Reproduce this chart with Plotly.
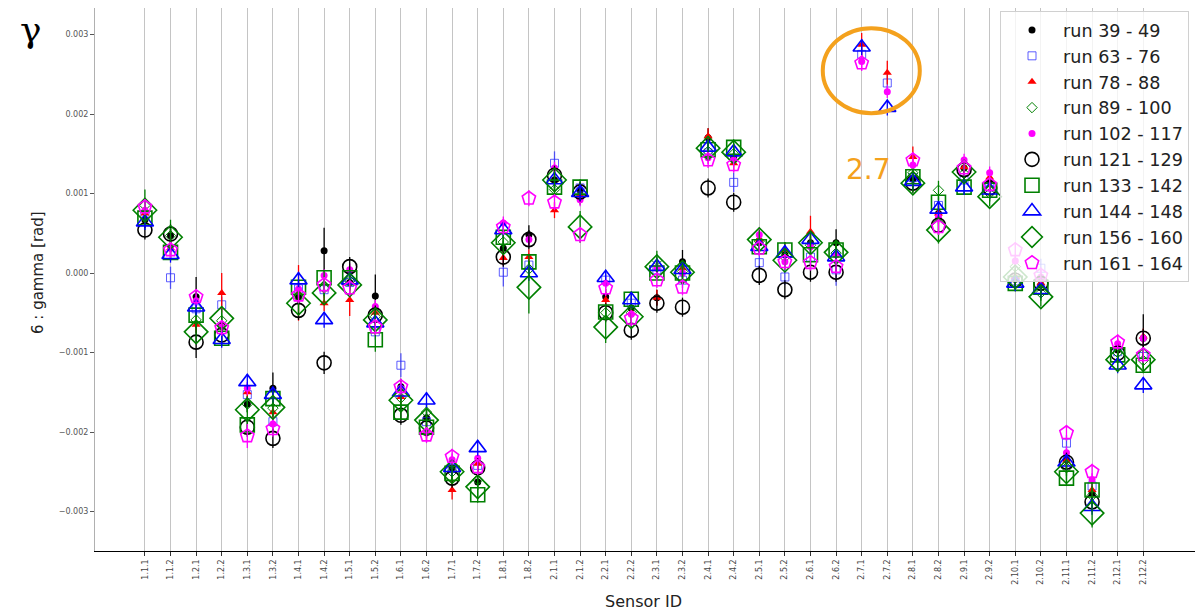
import plotly.graph_objects as go

# ---------------- data (values in mrad, converted to rad when plotted) ----------------
sensors = ["1.1.1","1.1.2","1.2.1","1.2.2","1.3.1","1.3.2","1.4.1","1.4.2","1.5.1","1.5.2",
           "1.6.1","1.6.2","1.7.1","1.7.2","1.8.1","1.8.2","2.1.1","2.1.2","2.2.1","2.2.2",
           "2.3.1","2.3.2","2.4.1","2.4.2","2.5.1","2.5.2","2.6.1","2.6.2","2.7.1","2.7.2",
           "2.8.1","2.8.2","2.9.1","2.9.2","2.10.1","2.10.2","2.11.1","2.11.2","2.12.1","2.12.2"]

run_39_49 = [0.67, 0.47, -0.30, -0.65, -1.65, -1.45, -0.30, 0.28, -0.12, -0.29,
             -1.43, -1.82, -2.45, -2.63, 0.31, 0.48, 1.17, 1.04, -0.30, -0.44,
             -0.31, 0.14, 1.70, 1.46, 0.38, 0.23, 0.38, 0.38, None, None,
             1.18, 0.75, 1.32, 1.17, -0.08, -0.15, -2.35, -2.77, -0.97, -0.82]
err_39_49 = [0.10, 0.12, 0.25, 0.10, 0.10, 0.20, 0.10, 0.29, 0.10, 0.27,
             0.10, 0.10, 0.08, 0.10, 0.10, 0.12, 0.10, 0.10, 0.10, 0.10,
             0.10, 0.15, 0.12, 0.10, 0.10, 0.10, 0.10, 0.17, 0, 0,
             0.10, 0.10, 0.10, 0.10, 0.10, 0.10, 0.10, 0.10, 0.10, 0.30]

run_63_76 = [0.73, -0.06, -0.45, -0.40, -1.53, -1.87, -0.20, -0.21, -0.12, -0.74,
             -1.16, -1.87, -2.46, -2.42, 0.01, 0.10, 1.38, 1.07, -0.09, -0.38,
             0.04, -0.09, 1.51, 1.14, 0.13, -0.05, 0.20, 0.04, 2.75, 2.39,
             1.20, 0.85, 1.17, 1.08, -0.10, 0.06, -2.14, -2.68, -0.99, -1.05]
err_63_76 = [0.10, 0.14, 0.10, 0.10, 0.10, 0.10, 0.10, 0.10, 0.10, 0.10,
             0.15, 0.10, 0.10, 0.10, 0.18, 0.10, 0.15, 0.10, 0.10, 0.10,
             0.10, 0.10, 0.10, 0.12, 0.10, 0.10, 0.10, 0.20, 0.10, 0.10,
             0.10, 0.10, 0.10, 0.10, 0.10, 0.12, 0.10, 0.10, 0.10, 0.10]

run_78_88 = [0.75, 0.31, -0.65, -0.25, -1.50, -1.75, -0.25, -0.38, -0.34, -0.50,
             -1.56, -2.00, -2.73, -2.40, 0.19, 0.20, 0.79, 0.98, -0.34, -0.50,
             -0.31, 0.06, 1.72, 1.38, 0.42, 0.29, 0.52, 0.25, 2.87, 2.52,
             1.46, 0.75, 1.33, 1.20, -0.05, -0.13, -2.36, -2.73, -0.93, -0.80]
err_78_88 = [0.10, 0.10, 0.10, 0.25, 0.10, 0.10, 0.35, 0.10, 0.20, 0.10,
             0.10, 0.10, 0.12, 0.10, 0.10, 0.10, 0.10, 0.10, 0.10, 0.10,
             0.10, 0.10, 0.10, 0.10, 0.10, 0.10, 0.20, 0.10, 0.15, 0.15,
             0.13, 0.10, 0.10, 0.10, 0.10, 0.10, 0.10, 0.10, 0.10, 0.10]

run_89_100 = [0.85, 0.47, -0.59, -0.60, -1.65, -1.70, -0.30, -0.19, -0.10, -0.55,
              -1.57, -1.75, -2.50, -2.60, 0.39, 0.05, 1.05, 0.96, -0.50, -0.50,
              0.16, 0.02, 1.53, 1.50, 0.40, 0.20, 0.35, 0.25, None, None,
              1.26, 1.04, 1.25, 1.00, 0.08, -0.25, -2.45, -2.80, -1.00, -1.10]
err_89_100 = [0.20, 0.20, 0.10, 0.10, 0.10, 0.10, 0.10, 0.10, 0.10, 0.10,
              0.10, 0.10, 0.10, 0.10, 0.10, 0.10, 0.10, 0.10, 0.10, 0.10,
              0.12, 0.10, 0.10, 0.10, 0.10, 0.10, 0.10, 0.10, 0, 0,
              0.10, 0.12, 0.10, 0.10, 0.10, 0.10, 0.10, 0.10, 0.10, 0.10]

run_102_117 = [0.79, 0.31, -0.35, -0.68, -1.45, -1.90, -0.20, -0.03, 0.04, -0.42,
               -1.45, -2.01, -2.35, -2.33, 0.63, 0.42, 1.32, 0.92, -0.13, -0.52,
               0.06, 0.00, 1.45, 1.42, 0.48, 0.14, 0.33, 0.23, 2.66, 2.28,
               1.36, 0.70, 1.42, 1.26, 0.15, -0.05, -2.26, -2.60, -0.89, -0.82]
err_102_117 = [0.08, 0.15, 0.08, 0.08, 0.08, 0.08, 0.08, 0.08, 0.08, 0.08,
               0.08, 0.10, 0.08, 0.08, 0.08, 0.08, 0.08, 0.08, 0.08, 0.08,
               0.08, 0.08, 0.08, 0.08, 0.10, 0.08, 0.08, 0.08, 0.08, 0.08,
               0.08, 0.08, 0.08, 0.08, 0.08, 0.08, 0.08, 0.08, 0.08, 0.08]

run_121_129 = [0.54, 0.49, -0.87, -0.78, -1.94, -2.08, -0.47, -1.13, 0.08, -0.53,
               -1.79, -1.95, -2.58, -2.45, 0.20, 0.42, 1.23, 1.02, -0.50, -0.72,
               -0.38, -0.43, 1.07, 0.89, -0.03, -0.21, 0.01, 0.01, None, None,
               1.13, 0.60, 1.30, 1.07, -0.09, -0.13, -2.38, -2.88, -1.01, -0.82]
err_121_129 = [0.12, 0.12, 0.20, 0.12, 0.12, 0.12, 0.12, 0.14, 0.12, 0.12,
               0.12, 0.12, 0.12, 0.12, 0.12, 0.12, 0.12, 0.12, 0.12, 0.12,
               0.12, 0.12, 0.12, 0.12, 0.12, 0.12, 0.12, 0.12, 0, 0,
               0.12, 0.12, 0.12, 0.12, 0.12, 0.12, 0.12, 0.12, 0.12, 0.12]

run_133_142 = [0.69, 0.26, -0.53, -0.82, -1.91, -1.58, -0.18, -0.06, -0.06, -0.84,
               -1.75, -1.94, -2.52, -2.79, 0.45, 0.14, 1.08, 1.08, -0.49, -0.33,
               0.00, 0.00, 1.55, 1.58, 0.33, 0.29, 0.23, 0.29, None, None,
               1.21, 0.89, 1.08, 1.04, -0.13, -0.18, -2.58, -2.73, -1.03, -1.16]
err_133_142 = [0.10, 0.10, 0.10, 0.10, 0.10, 0.10, 0.10, 0.10, 0.10, 0.15,
               0.10, 0.10, 0.10, 0.10, 0.10, 0.10, 0.10, 0.10, 0.10, 0.10,
               0.10, 0.10, 0.10, 0.10, 0.10, 0.10, 0.10, 0.10, 0, 0,
               0.10, 0.10, 0.10, 0.10, 0.10, 0.10, 0.10, 0.10, 0.10, 0.10]

run_144_148 = [0.64, 0.23, -0.43, -0.84, -1.37, -1.53, -0.09, -0.59, -0.09, -0.63,
               -1.50, -1.60, -2.45, -2.20, 0.54, 0.00, 1.17, 1.01, -0.06, -0.34,
               0.08, 0.04, 1.58, 1.52, 0.33, 0.25, 0.42, 0.20, 2.84, 2.08,
               1.15, 0.80, 1.08, 1.04, -0.13, -0.21, -2.38, -2.94, -1.16, -1.41]
err_144_148 = [0.10, 0.10, 0.10, 0.10, 0.10, 0.10, 0.10, 0.10, 0.10, 0.10,
               0.10, 0.10, 0.10, 0.10, 0.10, 0.10, 0.10, 0.10, 0.10, 0.10,
               0.10, 0.10, 0.10, 0.10, 0.10, 0.10, 0.10, 0.10, 0.10, 0.10,
               0.10, 0.10, 0.10, 0.10, 0.10, 0.10, 0.10, 0.10, 0.10, 0.10]

run_156_160 = [0.79, 0.45, -0.74, -0.57, -1.72, -1.69, -0.38, -0.25, -0.15, -0.59,
               -1.60, -1.85, -2.50, -2.69, 0.38, -0.18, 1.17, 0.58, -0.68, -0.55,
               0.08, 0.01, 1.57, 1.52, 0.42, 0.16, 0.38, 0.26, None, None,
               1.13, 0.54, 1.27, 0.96, -0.05, -0.30, -2.50, -3.02, -1.09, -1.09]
err_156_160 = [0.12, 0.12, 0.12, 0.12, 0.12, 0.12, 0.12, 0.12, 0.12, 0.12,
               0.12, 0.12, 0.12, 0.12, 0.12, 0.33, 0.12, 0.20, 0.20, 0.12,
               0.12, 0.12, 0.12, 0.12, 0.12, 0.12, 0.12, 0.12, 0, 0,
               0.12, 0.17, 0.12, 0.12, 0.12, 0.12, 0.12, 0.18, 0.12, 0.12]

run_161_164 = [0.83, 0.29, -0.30, -0.69, -2.05, -1.96, -0.28, -0.15, -0.19, -0.68,
               -1.43, -2.04, -2.31, -2.44, 0.58, 0.94, 0.89, 0.48, -0.19, -0.57,
               -0.09, -0.18, 1.42, 1.36, 0.31, 0.14, 0.13, 0.08, 2.64, None,
               1.42, 0.58, 1.32, 1.11, 0.29, -0.03, -2.01, -2.50, -0.87, -1.03]
err_161_164 = [0.10, 0.10, 0.10, 0.10, 0.15, 0.10, 0.10, 0.10, 0.10, 0.10,
               0.10, 0.10, 0.10, 0.10, 0.10, 0.10, 0.10, 0.10, 0.10, 0.10,
               0.10, 0.10, 0.10, 0.10, 0.10, 0.10, 0.10, 0.10, 0.10, 0,
               0.10, 0.10, 0.10, 0.10, 0.10, 0.10, 0.10, 0.10, 0.10, 0.10]

y_ticks = [-0.003, -0.002, -0.001, 0.0, 0.001, 0.002, 0.003]

# ---------------- styles ----------------
MRAD = 1e-3
series = [
    ("run 39 - 49",   run_39_49,   err_39_49,   "black",   "circle",          7,  0),
    ("run 63 - 76",   run_63_76,   err_63_76,   "rgba(40,40,255,0.75)", "square-open", 8, 1),
    ("run 78 - 88",   run_78_88,   err_78_88,   "red",     "triangle-up",     8,  0),
    ("run 89 - 100",  run_89_100,  err_89_100,  "green",   "diamond-open",    8,  1),
    ("run 102 - 117", run_102_117, err_102_117, "magenta", "circle",          7,  0),
    ("run 121 - 129", run_121_129, err_121_129, "black",   "circle-open",     14, 1.6),
    ("run 133 - 142", run_133_142, err_133_142, "green",   "square-open",     14, 1.6),
    ("run 144 - 148", run_144_148, err_144_148, "blue",    "triangle-up-open",15, 1.6),
    ("run 156 - 160", run_156_160, err_156_160, "green",   "diamond-open",    18, 1.6),
    ("run 161 - 164", run_161_164, err_161_164, "magenta", "pentagon-open",   14, 1.6),
]

# page offset of the figure inside the browser (default body margin)
OFF = 8
W, H = 1203, 613
# plot-area geometry in figure pixels
L, R, T, B = 95 - OFF, 1196 - OFF, 0, 551 - OFF
PW, PH = R - L, B - T
ZERO_Y = 273 - OFF          # figure-pixel row of y = 0
PX_PER_MRAD = 79.5
y_top = (ZERO_Y - T) / PX_PER_MRAD * MRAD
y_bot = -(B - ZERO_Y) / PX_PER_MRAD * MRAD

xidx = list(range(len(sensors)))
fig = go.Figure()
for name, vals, errs, col, sym, size, lw in series:
    fig.add_trace(go.Scatter(
        x=xidx,
        y=[None if v is None else v * MRAD for v in vals],
        mode="markers",
        name=name,
        marker=dict(symbol=sym, size=size, color=col,
                    line=dict(width=lw, color=col)),
        error_y=dict(type="data", array=[e * MRAD for e in errs],
                     color=col, thickness=1.3, width=0, visible=True),
    ))

FONT = "DejaVu Sans"

def px(x):   # screen x -> paper
    return (x - OFF - L) / PW

def py(y):   # screen y -> paper
    return (B - (y - OFF)) / PH

fig.update_layout(
    width=W, height=H,
    margin=dict(l=L, r=W - R, t=T, b=H - B, autoexpand=False),
    paper_bgcolor="white", plot_bgcolor="white",
    font=dict(family=FONT, color="#222"),
    showlegend=True,
    legend=dict(x=px(1189), y=py(11), xanchor="right", yanchor="top",
                bgcolor="rgba(255,255,255,0.8)", bordercolor="#d0d0d0",
                borderwidth=1, font=dict(size=17.6, family=FONT, color="#222"),
                tracegroupgap=0, itemsizing="trace", itemwidth=52),
    xaxis=dict(
        range=[-1.95, 41.06], automargin=False,
        tickmode="array", tickvals=xidx, ticktext=sensors,
        tickangle=-90, tickfont=dict(size=8, color="#444", family=FONT),
        showgrid=True, gridcolor="#c4c4c4", gridwidth=1,
        showline=True, linecolor="black", linewidth=1.2,
        ticks="outside", ticklen=4, tickcolor="#333",
        zeroline=False,
    ),
    yaxis=dict(
        range=[y_bot, y_top], automargin=False,
        tickmode="array", tickvals=y_ticks, tickformat=".3f",
        tickfont=dict(size=8, color="#555", family=FONT),
        showgrid=False, zeroline=False,
        showline=True, linecolor="#b0b0b0", linewidth=1, mirror=True,
        ticks="outside", ticklen=4, tickcolor="#555",
    ),
)

# axis titles
fig.add_annotation(x=px(643), y=py(601), xref="paper", yref="paper", text="Sensor ID",
                   xanchor="center", yanchor="middle",
                   showarrow=False, font=dict(size=16, family=FONT, color="#222"))
fig.add_annotation(x=px(38), y=py(273), xref="paper", yref="paper", text="6 : gamma [rad]",
                   xanchor="center", yanchor="middle",
                   textangle=-90, showarrow=False, font=dict(size=15, family=FONT, color="#222"))

# orange highlight ellipse and label around sensor 2.7
ORANGE = "#F4A11D"
fig.add_shape(type="circle", xref="x", yref="y",
              x0=26.48, x1=30.27, y0=2.01e-3, y1=3.08e-3,
              line=dict(color=ORANGE, width=4))
fig.add_annotation(x=28.28, y=1.30e-3, xref="x", yref="y", text="2.7",
                   showarrow=False, font=dict(size=28, color=ORANGE, family=FONT))

# gamma symbol at top-left (box kept inside the figure)
fig.add_annotation(x=px(31), y=1.0, xref="paper", yref="paper", text="γ",
                   xanchor="center", yanchor="top", borderpad=0,
                   showarrow=False, font=dict(size=36, color="black", family="DejaVu Serif"))

fig.write_html("out.html")
